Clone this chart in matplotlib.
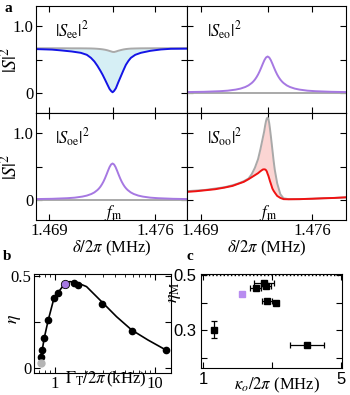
import numpy as np
import matplotlib.pyplot as plt

plt.rcParams['font.family'] = ['Liberation Serif', 'DejaVu Serif']
plt.rcParams['mathtext.fontset'] = 'stix'
plt.rcParams['font.size'] = 11

# ---------------- panel a data (detuning offsets in kHz from f_m) ----------------
fm = 1.4732
d_ee = [-5.1, -4.0, -3.4, -2.7, -2.1, -1.7, -1.43, -1.2, -1.0, -0.8, -0.66, -0.5, -0.33, -0.2, -0.1,
        0, 0.1, 0.22, 0.38, 0.55, 0.72, 0.88, 1.05, 1.21, 1.5, 1.87, 2.5, 3.19, 3.85, 4.95]
see_meas = [0.656, 0.648, 0.636, 0.62, 0.60, 0.57, 0.525, 0.47, 0.405, 0.33, 0.273, 0.20, 0.12, 0.06, 0.03,
            0.01, 0.03, 0.07, 0.16, 0.25, 0.34, 0.42, 0.48, 0.525, 0.57, 0.60, 0.63, 0.65, 0.66, 0.662]
see_ref = [0.668, 0.668, 0.668, 0.667, 0.667, 0.666, 0.665, 0.663, 0.66, 0.656, 0.652, 0.646, 0.637, 0.628, 0.621,
           0.614, 0.612, 0.619, 0.631, 0.641, 0.65, 0.656, 0.66, 0.663, 0.665, 0.667, 0.668, 0.668, 0.669, 0.67]

d_x = [-5.1, -4, -3, -2.5, -2, -1.7, -1.4, -1.2, -1, -0.9, -0.8, -0.7, -0.6, -0.5, -0.4, -0.3, -0.2, -0.1,
       0, 0.1, 0.2, 0.3, 0.4, 0.5, 0.6, 0.7, 0.8, 0.9, 1, 1.2, 1.4, 1.7, 2, 2.5, 3, 4, 4.95]
s_cross = [0.013, 0.017, 0.026, 0.034, 0.050, 0.065, 0.089, 0.113, 0.148,
           0.171, 0.199, 0.234, 0.275, 0.324, 0.379, 0.437, 0.491, 0.530,
           0.545,
           0.530, 0.491, 0.437, 0.379, 0.324, 0.275, 0.234, 0.199, 0.171,
           0.148, 0.113, 0.089, 0.065, 0.050, 0.034, 0.026, 0.017, 0.013]
d_flat = [-5.1, 4.95]
cross_ref = [0.005, 0.005]

d_oo = [-5.1, -4.5, -3.9, -3.3, -2.7, -2.2, -1.8, -1.5, -1.2, -1.0, -0.8, -0.6, -0.45, -0.3,
        -0.22, -0.15, -0.1, -0.05, 0, 0.05, 0.1, 0.15, 0.22, 0.3, 0.38, 0.45,
        0.6, 0.8, 1.0, 1.3, 2.0, 2.8, 3.5, 4.2, 4.95]
soo_meas = [0.12, 0.13, 0.145, 0.16, 0.185, 0.21, 0.245, 0.27, 0.31, 0.34, 0.37, 0.40, 0.43, 0.455,
            0.458, 0.455, 0.445, 0.425, 0.39, 0.36, 0.32, 0.28, 0.23, 0.17, 0.135, 0.11,
            0.06, 0.03, 0.012, 0.01, 0.012, 0.018, 0.025, 0.03, 0.04]
soo_ref = [0.13, 0.14, 0.15, 0.17, 0.19, 0.22, 0.25, 0.28, 0.32, 0.385, 0.48, 0.61, 0.76, 0.93,
           1.02, 1.12, 1.18, 1.22, 1.23, 1.21, 1.15, 1.06, 0.92, 0.75, 0.58, 0.45,
           0.25, 0.085, 0.025, 0.012, 0.012, 0.018, 0.025, 0.03, 0.038]

# ---------------- panel b data ----------------
gamma_T = [0.724, 0.746, 0.782, 0.857, 0.985, 1.07, 1.54, 1.72, 2.93, 5.93, 12.9]
eta = [0.06, 0.099, 0.165, 0.261, 0.381, 0.407, 0.459, 0.45, 0.346, 0.202, 0.10]
gamma_best, eta_best = 1.25, 0.456
gamma_grey, eta_grey = 0.724, 0.027
fit_x = [0.715, 0.724, 0.746, 0.782, 0.857, 0.977, 1.06, 1.25, 1.41, 1.65, 2.07, 2.93, 4.13, 5.86, 8.53, 12.9]
fit_y = [0.045, 0.06, 0.099, 0.165, 0.261, 0.378, 0.405, 0.456, 0.468, 0.463, 0.441, 0.36, 0.279, 0.207, 0.153, 0.099]

# ---------------- panel c data ----------------
kappa = [1.31, 2.52, 2.77, 2.83, 2.85, 3.12, 4.01]
eta_M = [0.302, 0.453, 0.472, 0.46, 0.407, 0.398, 0.247]
kappa_err = [0.05, 0.17, 0.3, 0.15, 0.15, 0.06, 0.5]
eta_M_err = [0.031, 0.008, 0.008, 0.008, 0.008, 0.008, 0.008]
kappa_best, eta_M_best = 2.12, 0.43

blue = '#1414e6'
grey = '#a9a9a9'
purple = '#a678e2'
red = '#f01212'


def x_of(d):
    return fm + np.array(d) / 1000.0


fig = plt.figure(figsize=(3.5, 3.95), dpi=100)
W, H = 350, 395


def add_ax(x0, y0, x1, y1):
    return fig.add_axes([x0 / W, 1 - y1 / H, (x1 - x0) / W, (y1 - y0) / H])


ax_ee = add_ax(36, 6, 187, 113)
ax_eo = add_ax(187, 6, 346, 113)
ax_oe = add_ax(36, 113, 187, 220)
ax_oo = add_ax(187, 113, 346, 220)

ax_ee.fill_between(x_of(d_ee), see_meas, see_ref, color='#d6eff5', lw=0)
ax_ee.plot(x_of(d_ee), see_ref, color=grey, lw=1.4)
ax_ee.plot(x_of(d_ee), see_meas, color=blue, lw=1.4)

for ax in (ax_eo, ax_oe):
    ax.plot(x_of(d_flat), cross_ref, color=grey, lw=1.4)
    ax.plot(x_of(d_x), s_cross, color=purple, lw=1.4)

ax_oo.fill_between(x_of(d_oo), soo_meas, soo_ref, color='#fbd5d3', lw=0)
ax_oo.plot(x_of(d_oo), soo_ref, color=grey, lw=1.4)
ax_oo.plot(x_of(d_oo), soo_meas, color=red, lw=1.4)

labels = {ax_ee: r'$|S_{\rm ee}|^2$', ax_eo: r'$|S_{\rm eo}|^2$',
          ax_oe: r'$|S_{\rm oe}|^2$', ax_oo: r'$|S_{\rm oo}|^2$'}
for ax in (ax_ee, ax_eo, ax_oe, ax_oo):
    ax.set_xlim(1.46814, 1.47812)
    ax.set_ylim(-0.3, 1.3)
    ax.set_xticks([1.469, fm, 1.476])
    ax.set_yticks([0, 0.5, 1.0])
    ax.tick_params(direction='in', top=True, right=True, length=4, labelsize=12, pad=2)
    ax.text(1.4694, 0.93, labels[ax], fontsize=12, va='center')
    if ax in (ax_ee, ax_oe):
        ax.set_yticklabels(['0', '', '1.0'])
        ax.set_ylabel(r'$|S|^2$', fontsize=14)
        ax.yaxis.set_label_coords(-0.1, 0.5)
    else:
        ax.set_yticklabels([])
    if ax in (ax_oe, ax_oo):
        ax.set_xticklabels(['1.469', '', '1.476'])
        ax.set_xlabel(r'$\delta/2\pi$ (MHz)', fontsize=12, labelpad=0)
        ax.text(fm, -0.2, r'$f_{\rm m}$', fontsize=12, ha='center', va='center')
    else:
        ax.set_xticklabels([])

# ---------------- panel b ----------------
ax_b = add_ax(34, 274, 171, 373)
ax_b.plot(fit_x, fit_y, color='black', lw=1.2, zorder=2)
ax_b.plot(gamma_T, eta, 'o', color='black', ms=4.5, zorder=3)
ax_b.plot(gamma_best, eta_best, 'o', color=purple, mec='black', mew=0.6, ms=6, zorder=4)
ax_b.plot(gamma_grey, eta_grey, 'o', color='#b5b5b5', ms=5, zorder=3)
ax_b.set_xscale('log')
ax_b.set_xlim(0.617, 14.5)
ax_b.set_ylim(-0.025, 0.509)
ax_b.set_xticks([1, 10])
ax_b.set_xticklabels(['1', '10'])
ax_b.set_yticks([0, 0.25, 0.5])
ax_b.set_yticklabels(['0', '', '0.5'])
ax_b.tick_params(which='both', direction='in', top=True, right=True, labelsize=12, pad=2)
ax_b.tick_params(which='major', length=4)
ax_b.tick_params(which='minor', length=2.5)
ax_b.set_ylabel(r'$\eta$', fontsize=13, labelpad=0)
ax_b.yaxis.set_label_coords(-0.08, 0.55)
ax_b.text(0.52, -0.06, r'$\Gamma_{\rm T}/2\pi\,$(kHz)', transform=ax_b.transAxes,
          ha='center', va='center', fontsize=12)

# ---------------- panel c ----------------
ax_c = add_ax(201, 274, 342, 368)
ax_c.axhline(0.5, color='black', ls=':', lw=1.0)
ax_c.errorbar(kappa, eta_M, xerr=kappa_err, yerr=eta_M_err, fmt='s', color='black',
              ms=4, capsize=2, elinewidth=0.9, capthick=0.9)
ax_c.plot(kappa_best, eta_M_best, 's', color='#b88cf0', ms=5)
ax_c.set_xlim(0.93, 5.04)
ax_c.set_ylim(0.163, 0.504)
ax_c.set_xticks([1, 3, 5])
ax_c.set_xticklabels(['1', '', '5'])
ax_c.set_yticks([0.2, 0.3, 0.4, 0.5])
ax_c.set_yticklabels(['', '0.3', '', '0.5'])
ax_c.tick_params(direction='in', top=True, right=True, length=4, labelsize=12, pad=3)
for lab in ax_c.get_xticklabels() + ax_c.get_yticklabels():
    lab.set_family('Liberation Sans')
ax_c.set_ylabel(r'$\eta_{\rm M}$', fontsize=13)
ax_c.yaxis.set_label_coords(-0.13, 0.8)
ax_c.text(0.54, -0.19, r'$\kappa_o/2\pi$ (MHz)', transform=ax_c.transAxes,
          ha='center', va='center', fontsize=12)

fig.text(8 / W, 1 - 9 / H, 'a', fontweight='bold', fontsize=11, ha='center', va='center')
fig.text(7 / W, 1 - 257 / H, 'b', fontweight='bold', fontsize=11, ha='center', va='center')
fig.text(190 / W, 1 - 257 / H, 'c', fontweight='bold', fontsize=11, ha='center', va='center')

fig.savefig('out.png', dpi=100)
